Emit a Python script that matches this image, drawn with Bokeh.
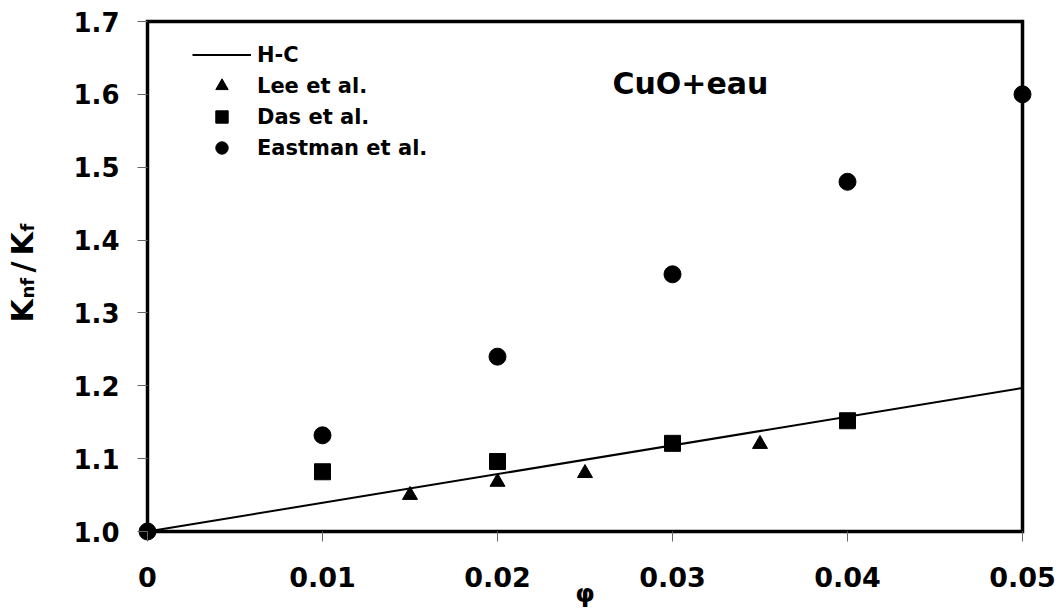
from bokeh.plotting import figure
from bokeh.layouts import row
from bokeh.models import Range1d, FixedTicker, Label, Legend, LegendItem
from bokeh.core.properties import value
from bokeh.embed import file_html
from bokeh.resources import INLINE
import math

# ---- data ----
x_ticks = [0.0, 0.01, 0.02, 0.03, 0.04, 0.05]
x_tick_labels = ["0", "0.01", "0.02", "0.03", "0.04", "0.05"]
y_ticks = [1.0, 1.1, 1.2, 1.3, 1.4, 1.5, 1.6, 1.7]
y_tick_labels = ["1.0", "1.1", "1.2", "1.3", "1.4", "1.5", "1.6", "1.7"]

phi_hc = [0.0, 0.05]
k_hc = [1.0, 1.197]

phi_lee = [0.015, 0.02, 0.025, 0.035]
k_lee = [1.05, 1.068, 1.08, 1.12]

phi_das = [0.01, 0.02, 0.03, 0.04]
k_das = [1.082, 1.096, 1.121, 1.152]

phi_east = [0.0, 0.01, 0.02, 0.03, 0.04, 0.05]
k_east = [1.0, 1.132, 1.24, 1.353, 1.48, 1.60]

series_names = ["H-C", "Lee et al.", "Das et al.", "Eastman et al."]

FONT = "DejaVu Sans"

# ---- layout (pixels, page coordinates) ----
W, H = 1063, 616
LW = 60                      # width of the strip holding the rotated y label
box_left, box_right, box_top, box_bottom = 147, 1022, 21, 531
pad = 10                     # frame extends beyond drawn box so edge markers are not clipped

x0, x1 = x_ticks[0], x_ticks[-1]
y0, y1 = y_ticks[0], y_ticks[-1]
xpx = (x1 - x0) / (box_right - box_left)
ypx = (y1 - y0) / (box_bottom - box_top)
yr = Range1d(y0 - pad * ypx, y1 + pad * ypx)

def page_y(py):
    """page pixel row -> y data value (frames of the row are aligned)"""
    return yr.end - (py - (box_top - pad)) * ypx

# ---- y-axis title strip ----
lab = figure(width=LW, height=H, output_backend="svg", toolbar_location=None,
             x_range=Range1d(0, LW), y_range=yr,
             x_axis_location=None, y_axis_location=None,
             min_border=0, min_border_left=0, min_border_right=0,
             min_border_top=box_top - pad, min_border_bottom=H - box_bottom - pad)
lab.outline_line_color = None
lab.xgrid.visible = False
lab.ygrid.visible = False
lab.border_fill_color = "white"
lab.background_fill_color = "white"

def ylab(txt, size, py, baseline_x):
    lab.text(x=[baseline_x - 0.33 * size], y=[page_y(py)], text=[txt], angle=math.pi / 2,
             text_font=value(FONT), text_font_style="bold", text_font_size=f"{size}px",
             text_color="black", text_baseline="middle", text_align="left")

# K_nf / K_f, read bottom to top
ylab("K", 30, 322, 32)
ylab("nf", 18, 298, 33)
ylab("/", 30, 272, 32)
ylab("K", 30, 255, 32)
ylab("f", 18, 231, 33)

# ---- main chart ----
p = figure(width=W - LW, height=H, output_backend="svg", toolbar_location=None,
           x_range=Range1d(x0 - pad * xpx, x1 + pad * xpx), y_range=yr,
           min_border_left=box_left - pad - LW, min_border_right=W - box_right - pad,
           min_border_top=box_top - pad, min_border_bottom=H - box_bottom - pad)
p.outline_line_color = None
p.background_fill_color = "white"
p.border_fill_color = "white"
p.xgrid.visible = False
p.ygrid.visible = False

# plot box (drawn from the axis limits)
p.line([x0, x1, x1, x0, x0], [y0, y0, y1, y1, y0], line_color="black",
       line_width=3.5, line_join="miter")

# axes
for ax in (p.xaxis[0], p.yaxis[0]):
    ax.axis_line_color = None
    ax.major_tick_in = pad
    ax.major_tick_out = 0
    ax.major_tick_line_color = "#666666"
    ax.major_tick_line_width = 1
    ax.minor_tick_line_color = None
    ax.major_label_text_font = FONT
    ax.major_label_text_font_style = "bold"
    ax.major_label_text_color = "black"

p.xaxis.ticker = FixedTicker(ticks=x_ticks)
p.xaxis.major_label_overrides = {t: l for t, l in zip(x_ticks, x_tick_labels)}
p.xaxis.major_label_text_font_size = "27px"
p.xaxis.major_label_standoff = 25
p.xaxis.axis_label = "φ"
p.xaxis.axis_label_text_font = FONT
p.xaxis.axis_label_text_font_style = "bold"
p.xaxis.axis_label_text_font_size = "25px"
p.xaxis.axis_label_text_color = "black"
p.xaxis.axis_label_standoff = -11

p.yaxis.ticker = FixedTicker(ticks=y_ticks)
p.yaxis.major_label_overrides = {t: l for t, l in zip(y_ticks, y_tick_labels)}
p.yaxis.major_label_text_font_size = "26px"
p.yaxis.major_label_standoff = 18

# series
r_hc = p.line(phi_hc, k_hc, line_color="black", line_width=2)
r_lee = p.scatter(phi_lee, k_lee, marker="triangle", size=15, color="black")
r_das = p.scatter(phi_das, k_das, marker="square", size=16, color="black")
r_east = p.scatter(phi_east, k_east, marker="circle", size=17, color="black")

legend = Legend(items=[LegendItem(label=n, renderers=[r])
                       for n, r in zip(series_names, [r_hc, r_lee, r_das, r_east])],
                location=(55, 378), padding=4, spacing=0, margin=0,
                glyph_width=59, glyph_height=31, label_height=31, label_standoff=6,
                label_text_font=FONT, label_text_font_style="bold",
                label_text_font_size="21px", label_text_color="black",
                border_line_color=None, background_fill_alpha=0)
p.add_layout(legend)

# in-plot title
p.add_layout(Label(x=0.02657, y=1.615, text="CuO+eau", text_font=FONT,
                   text_font_style="bold", text_font_size="30px",
                   text_color="black", text_baseline="alphabetic", text_align="left"))

layout = row(lab, p, spacing=0)
open("out.html", "w").write(file_html(layout, INLINE))
